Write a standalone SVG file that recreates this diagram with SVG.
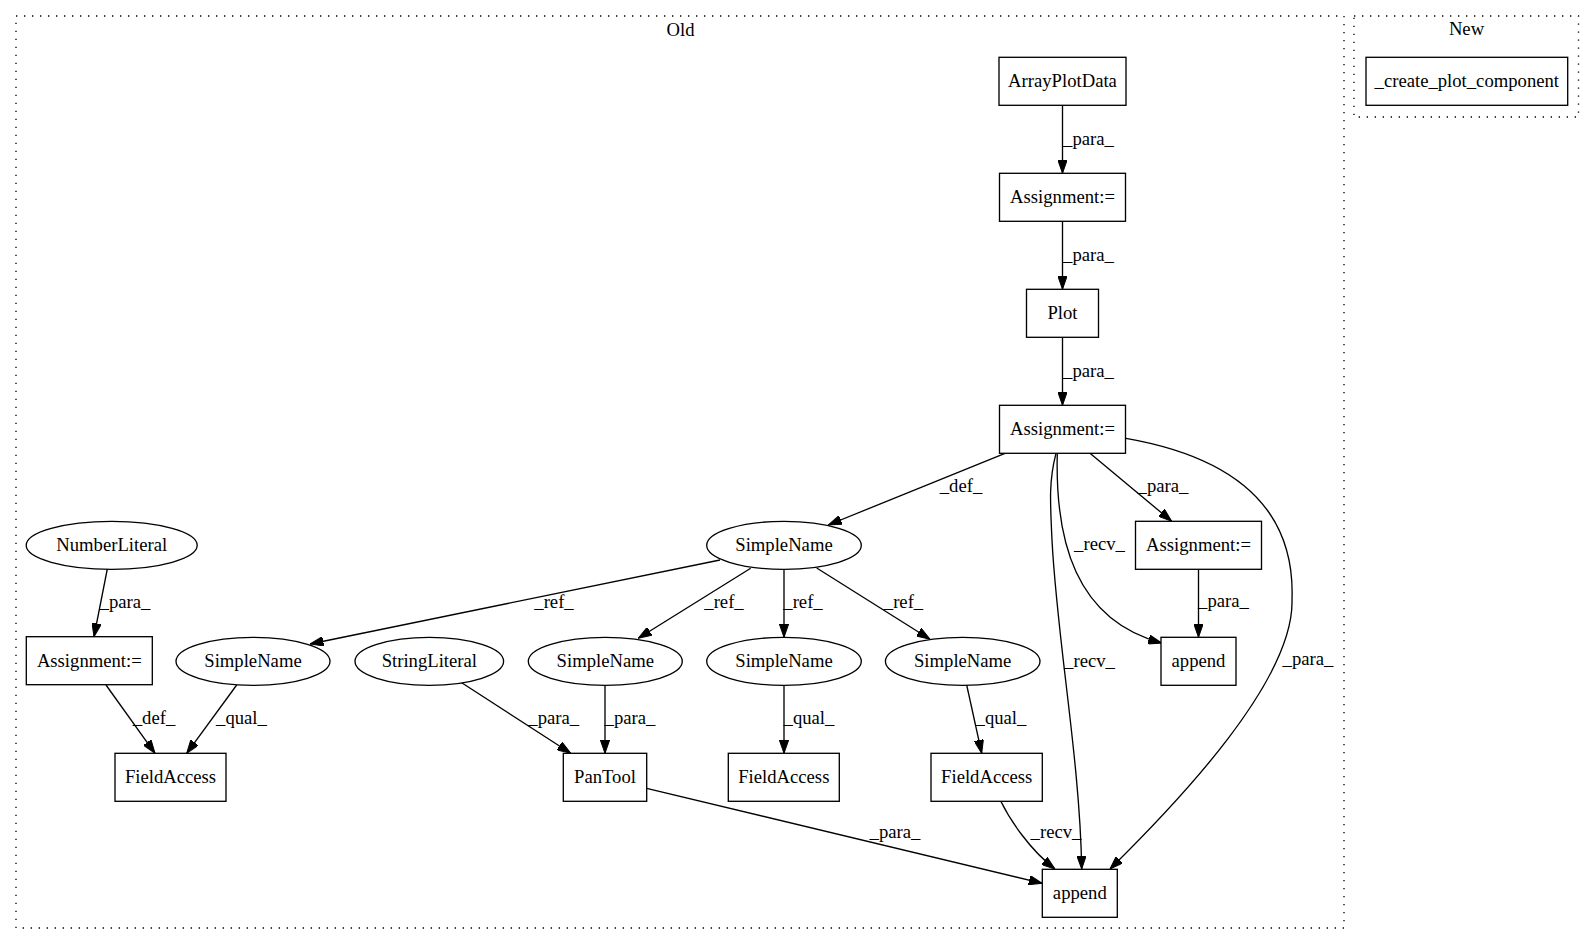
<svg xmlns="http://www.w3.org/2000/svg" width="1595" height="944" viewBox="0 0 1595 944">
<style>
text{font-family:"Liberation Serif","Times New Roman",serif;font-size:18.67px;fill:#000;text-anchor:middle}
.n{fill:#fff;stroke:#000;stroke-width:1.33}
.cl{fill:none;stroke:#000;stroke-width:1.33;stroke-dasharray:1.33,6.67}
.e{fill:none;stroke:#000;stroke-width:1.33;marker-end:url(#ah)}
</style>
<defs>
<marker id="ah" markerUnits="userSpaceOnUse" viewBox="0 0 13.4 9.4" refX="13.4" refY="4.7" markerWidth="13.4" markerHeight="9.4" orient="auto">
<path d="M0,0 L13.4,4.7 L0,9.4 z" fill="#000" stroke="#000" stroke-width="1"/>
</marker>
</defs>
<rect width="1595" height="944" fill="#fff"/>
<g id="cluster_old">
<rect class="cl" x="16" y="16" width="1328" height="912"/>
<text x="680.5" y="36">Old</text>
</g>
<g id="cluster_new">
<rect class="cl" x="1354" y="16" width="224.5" height="101"/>
<text x="1466.5" y="35">New</text>
</g>
<g id="connectors">
<path class="e" d="M1062.5,105.3 L1062.5,173.3"/>
<text x="1088.5" y="144.5">_para_</text>
<path class="e" d="M1062.5,221.3 L1062.5,289.3"/>
<text x="1088.5" y="260.5">_para_</text>
<path class="e" d="M1062.5,337.3 L1062.5,405.3"/>
<text x="1088.5" y="376.5">_para_</text>
<path class="e" d="M1005,453.3 L828.3,525"/>
<text x="961" y="492">_def_</text>
<path class="e" d="M1090,453.3 L1171.7,521.3"/>
<text x="1163" y="492">_para_</text>
<path class="e" d="M1057.3,453.3 C1055,540 1075,620 1161.7,643"/>
<text x="1099.5" y="550">_recv_</text>
<path class="e" d="M1056,453.3 C1049,480 1050,500 1052,540 C1057,640 1080,760 1081.7,869"/>
<text x="1089.5" y="667">_recv_</text>
<path class="e" d="M1126,438.3 C1250,460 1295,520 1292,600 C1294,680 1180,800 1110,869"/>
<text x="1308" y="665">_para_</text>
<path class="e" d="M1198.5,569.3 L1198.5,637.3"/>
<text x="1223.5" y="607">_para_</text>
<path class="e" d="M720,560 L310,644"/>
<text x="554" y="608">_ref_</text>
<path class="e" d="M750.7,568.3 L638.3,638.3"/>
<text x="724" y="608">_ref_</text>
<path class="e" d="M784,569.3 L784,637.3"/>
<text x="803" y="608">_ref_</text>
<path class="e" d="M816.7,568 L930,639.3"/>
<text x="903.5" y="608">_ref_</text>
<path class="e" d="M107.3,569 L94,636.7"/>
<text x="125" y="608">_para_</text>
<path class="e" d="M106,685 L155,753.3"/>
<text x="154" y="724">_def_</text>
<path class="e" d="M236.7,685 L186.7,753.3"/>
<text x="241.5" y="724">_qual_</text>
<path class="e" d="M461.7,682.7 L570.7,753.3"/>
<text x="553.7" y="724">_para_</text>
<path class="e" d="M605,685.3 L605,753.3"/>
<text x="630" y="724">_para_</text>
<path class="e" d="M784,685.3 L784,753.3"/>
<text x="809" y="724">_qual_</text>
<path class="e" d="M966.7,685 L981.7,753.3"/>
<text x="1001" y="724">_qual_</text>
<path class="e" d="M646.7,788.3 L1042.3,883.3"/>
<text x="895" y="838">_para_</text>
<path class="e" d="M1000.7,801 C1010,820 1030,850 1055,869"/>
<text x="1056" y="838">_recv_</text>
</g>
<g id="n_create_plot_component"><rect class="n" x="1366" y="57.3" width="201.7" height="48"/><text x="1466.8" y="87.3">_create_plot_component</text></g>
<g id="n_ArrayPlotData"><rect class="n" x="999" y="57.3" width="127" height="48"/><text x="1062.5" y="87.3">ArrayPlotData</text></g>
<g id="n_Assignment1"><rect class="n" x="999.5" y="173.3" width="126" height="48"/><text x="1062.5" y="203.3">Assignment:=</text></g>
<g id="n_Plot"><rect class="n" x="1026.5" y="289.3" width="72" height="48"/><text x="1062.5" y="319.3">Plot</text></g>
<g id="n_Assignment2"><rect class="n" x="999.5" y="405.3" width="126" height="48"/><text x="1062.5" y="435.3">Assignment:=</text></g>
<g id="n_SimpleName_main"><ellipse class="n" cx="784" cy="545.3" rx="77.3" ry="24"/><text x="784" y="551.3">SimpleName</text></g>
<g id="n_Assignment3"><rect class="n" x="1135.5" y="521.3" width="126" height="48"/><text x="1198.5" y="551.3">Assignment:=</text></g>
<g id="n_append_right"><rect class="n" x="1161" y="637.3" width="75" height="48"/><text x="1198.5" y="667.3">append</text></g>
<g id="n_NumberLiteral"><ellipse class="n" cx="111.7" cy="545.3" rx="85.5" ry="24"/><text x="111.7" y="551.3">NumberLiteral</text></g>
<g id="n_Assignment_left"><rect class="n" x="26.3" y="636.7" width="126" height="48"/><text x="89.3" y="666.7">Assignment:=</text></g>
<g id="n_SimpleName_A"><ellipse class="n" cx="253" cy="661.3" rx="77" ry="24"/><text x="253" y="667.3">SimpleName</text></g>
<g id="n_StringLiteral"><ellipse class="n" cx="429.3" cy="661.3" rx="74.3" ry="24"/><text x="429.3" y="667.3">StringLiteral</text></g>
<g id="n_SimpleName_B"><ellipse class="n" cx="605.3" cy="661.3" rx="77" ry="24"/><text x="605.3" y="667.3">SimpleName</text></g>
<g id="n_SimpleName_C"><ellipse class="n" cx="784" cy="661.3" rx="77.3" ry="24"/><text x="784" y="667.3">SimpleName</text></g>
<g id="n_SimpleName_D"><ellipse class="n" cx="962.7" cy="661.3" rx="77.3" ry="24"/><text x="962.7" y="667.3">SimpleName</text></g>
<g id="n_FieldAccess_left"><rect class="n" x="115" y="753.3" width="111" height="48"/><text x="170.5" y="783.3">FieldAccess</text></g>
<g id="n_PanTool"><rect class="n" x="563.3" y="753.3" width="83.4" height="48"/><text x="605" y="783.3">PanTool</text></g>
<g id="n_FieldAccess_mid"><rect class="n" x="728.3" y="753.3" width="111" height="48"/><text x="783.8" y="783.3">FieldAccess</text></g>
<g id="n_FieldAccess_right"><rect class="n" x="931" y="753.3" width="111.3" height="48"/><text x="986.7" y="783.3">FieldAccess</text></g>
<g id="n_append_bottom"><rect class="n" x="1042.3" y="869.3" width="75" height="48"/><text x="1079.8" y="899.3">append</text></g>
</svg>
